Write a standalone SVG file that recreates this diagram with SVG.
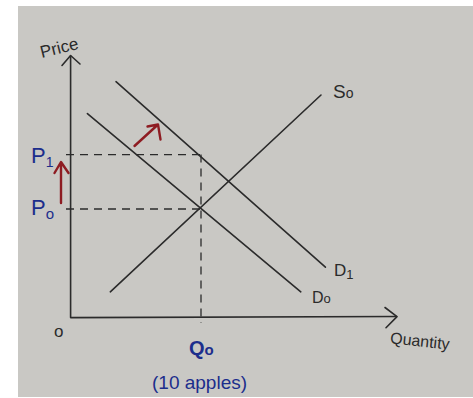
<svg xmlns="http://www.w3.org/2000/svg" width="473" height="398" viewBox="0 0 473 398">
<style>
.ln{stroke:#2b2b2b;stroke-width:1.6;fill:none;stroke-linecap:round;stroke-linejoin:round}
.dash{stroke:#2b2b2b;stroke-width:1.3;fill:none;stroke-dasharray:8 6}
.red{stroke:#8e1c22;stroke-width:2.4;fill:none;stroke-linecap:round;stroke-linejoin:round}
.blk{font-family:"Liberation Sans",sans-serif;fill:#2b2b2b}
.blu{font-family:"Liberation Sans",sans-serif;fill:#1c2e8c}
</style>
<rect width="473" height="398" fill="#ffffff"/>
<rect x="18" y="6" width="455" height="391" fill="#c9c8c4"/>
<g id="axes">
<path class="ln" d="M70.6,56 L70.6,317.6 L396.6,316.5"/>
<path class="ln" d="M62,65.5 L70.6,55.5 L80,64"/>
<path class="ln" d="M385,307.5 L397,316.6 L386,327.7"/>
</g>
<g id="connectors">
<path class="dash" d="M66,154.6 L201,154.6"/>
<path class="dash" d="M66,209 L201,209"/>
<path class="dash" d="M201,154.6 L201,323"/>
<path class="ln" id="S0" d="M110.3,291.8 L321,95"/>
<path class="ln" id="D1" d="M116,81.7 L325.4,267.2"/>
<path class="ln" id="D0" d="M87.4,113.6 L300.8,291.8"/>
<path class="red" d="M61,203 L61,163 M54.5,173 L61,162 L68.5,173"/>
<path class="red" d="M134.5,146 L158,124.5 M147.5,126.5 L158,124.5 L160.5,139.5"/>
</g>
<g id="labels">
<text class="blk" x="39" y="53" font-size="17" transform="rotate(-14 61 44)">Price</text>
<text class="blk" x="54" y="337" font-size="17">o</text>
<text class="blk" x="333" y="98" font-size="19">S<tspan font-size="14">o</tspan></text>
<text class="blk" x="334" y="276" font-size="17">D<tspan font-size="13" dy="3">1</tspan></text>
<text class="blk" x="312" y="303" font-size="16">D<tspan font-size="13">o</tspan></text>
<text class="blk" x="390" y="347" font-size="16" transform="rotate(6 425 343)">Quantity</text>
<text class="blu" x="31" y="163" font-size="22">P<tspan font-size="14" dy="4">1</tspan></text>
<text class="blu" x="31" y="215" font-size="22">P<tspan font-size="15" dy="4">o</tspan></text>
<text class="blu" x="189" y="355" font-size="20" font-weight="bold">Q<tspan font-size="15">o</tspan></text>
<text class="blu" x="152" y="389" font-size="19">(10 apples)</text>
</g>
</svg>
